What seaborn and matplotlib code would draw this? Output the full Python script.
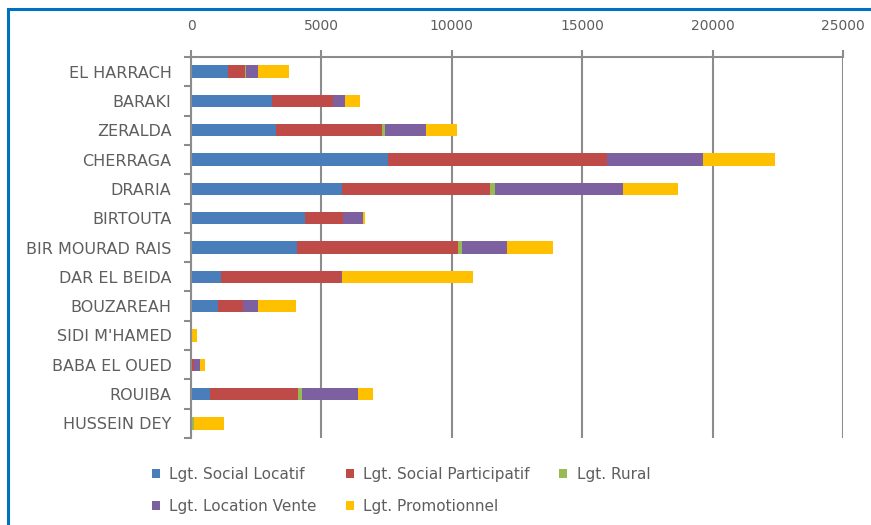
import numpy as np
import pandas as pd
import matplotlib
matplotlib.use("Agg")
import matplotlib.pyplot as plt
import seaborn as sns
from matplotlib.patches import Patch, Rectangle

communes = ["EL HARRACH", "BARAKI", "ZERALDA", "CHERRAGA", "DRARIA", "BIRTOUTA",
            "BIR MOURAD RAIS", "DAR EL BEIDA", "BOUZAREAH", "SIDI M'HAMED",
            "BABA EL OUED", "ROUIBA", "HUSSEIN DEY"]

social_locatif = [1420, 3100, 3260, 7550, 5790, 4370, 4060, 1150, 1050, 0, 0, 730, 0]
social_participatif = [650, 2340, 4060, 8390, 5670, 1450, 6170, 4600, 950, 0, 100, 3370, 50]
rural = [30, 0, 100, 0, 200, 0, 150, 0, 0, 0, 0, 170, 80]
location_vente = [470, 460, 1580, 3680, 4900, 770, 1720, 50, 570, 0, 230, 2130, 0]
promotionnel = [1180, 580, 1190, 2760, 2110, 100, 1770, 5000, 1450, 230, 190, 580, 1150]

series_names = ["Lgt. Social Locatif", "Lgt. Social Participatif", "Lgt. Rural",
                "Lgt. Location Vente", "Lgt. Promotionnel"]
series_values = [social_locatif, social_participatif, rural, location_vente, promotionnel]
colors = ["#4A7EBB", "#BE4B48", "#98B954", "#7D60A0", "#FFC000"]

sns.set_style("white")
plt.rcParams["font.family"] = ["DejaVu Sans"]
text_color = "#5E5E5E"
grid_color = "#8C8C8C"

fig = plt.figure(figsize=(8.71, 5.25), dpi=100)
ax = fig.add_axes([191 / 871, 1 - 438 / 525, (843 - 191) / 871, (438 - 57) / 525])

left = np.zeros(len(communes))
for name, vals, col in zip(series_names, series_values, colors):
    vals = np.array(vals, dtype=float)
    df = pd.DataFrame({"commune": communes, "value": vals})
    sns.barplot(data=df, x="value", y="commune", orient="y", color=col,
                width=0.42, left=left, errorbar=None, ax=ax, linewidth=0,
                saturation=1)
    left = left + vals

ax.set_xlim(0, 25000)
ax.set_ylim(len(communes) - 0.5, -0.5)
ax.set_xlabel("")
ax.set_ylabel("")

ax.xaxis.tick_top()
ax.set_xticks([0, 5000, 10000, 15000, 20000, 25000])
ax.tick_params(axis="x", which="major", length=5, width=1.5, color=grid_color,
               pad=12, labelsize=10, labelcolor=text_color, direction="out")
ax.grid(axis="x", color=grid_color, linewidth=1.5)
ax.grid(axis="y", visible=False)

ax.set_yticks(np.arange(len(communes)))
ax.set_yticklabels(communes)
ax.set_yticks(np.arange(len(communes) + 1) - 0.5, minor=True)
ax.tick_params(axis="y", which="major", length=0, pad=14, labelsize=11.5,
               labelcolor=text_color)
ax.tick_params(axis="y", which="minor", length=5, width=1.5, color=grid_color,
               direction="out", left=True)

for side in ["right", "bottom"]:
    ax.spines[side].set_visible(False)
for side in ["top", "left"]:
    ax.spines[side].set_visible(True)
    ax.spines[side].set_color(grid_color)
    ax.spines[side].set_linewidth(1.5)

handles = [Patch(facecolor=c, edgecolor="none") for c in colors]
order = [0, 3, 1, 4, 2]
leg = fig.legend([handles[i] for i in order], [series_names[i] for i in order],
                 ncol=3, loc="upper left", bbox_to_anchor=(138 / 871, 1 - 453 / 525),
                 frameon=False, handlelength=0.55, handleheight=0.55,
                 handletextpad=0.6, columnspacing=1.9, labelspacing=1.1,
                 fontsize=11)
for t in leg.get_texts():
    t.set_color(text_color)

# blue frame, only top and left edges visible in the crop
fig.patches.append(Rectangle((8 / 871, -0.1), 1.2, 1 - 9 / 525 + 0.1,
                             transform=fig.transFigure, fill=False,
                             edgecolor="#0070C0", linewidth=2.2))

fig.savefig("out.png", dpi=100, facecolor="white")
